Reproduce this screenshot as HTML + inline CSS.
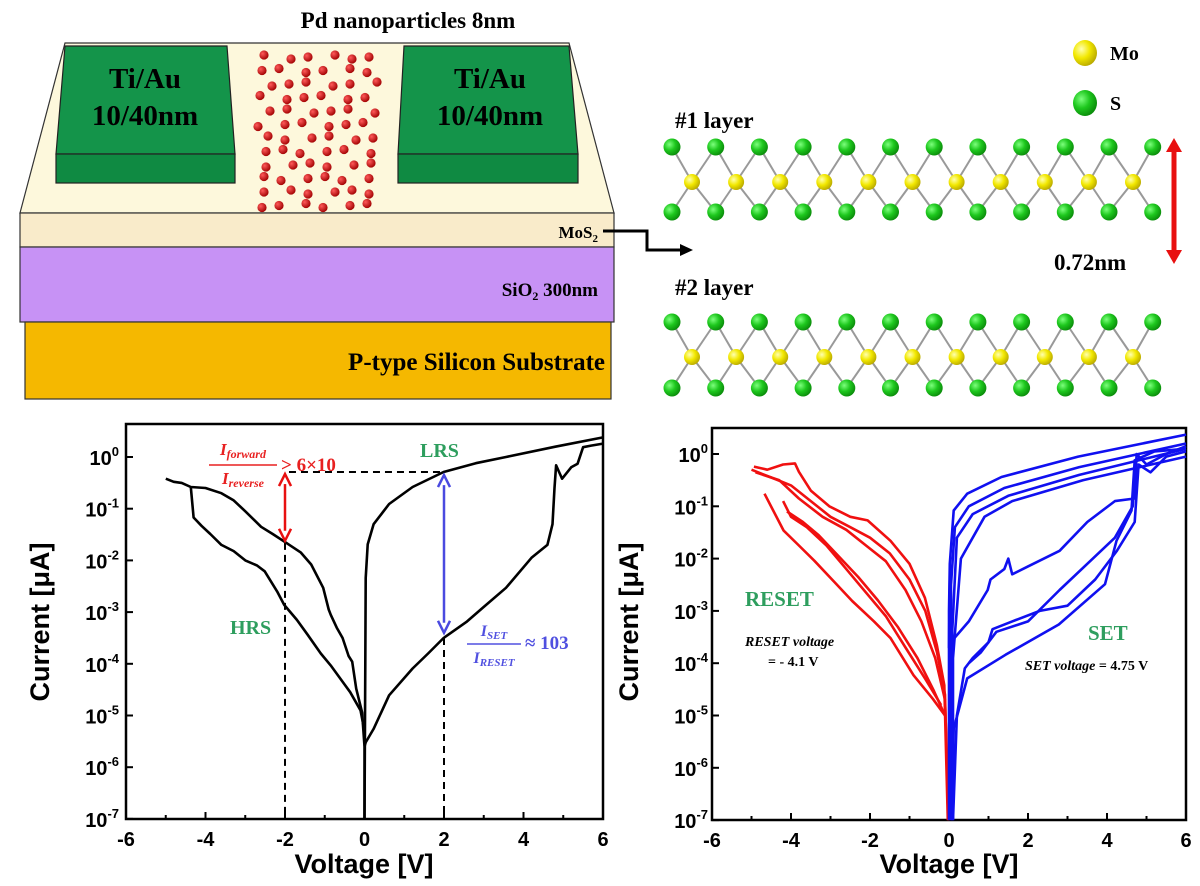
<!DOCTYPE html>
<html><head><meta charset="utf-8"><style>
html,body{margin:0;padding:0;background:#fff;}
svg{display:block;}
.ser{font-family:"Liberation Serif",serif;font-weight:bold;}
.san{font-family:"Liberation Sans",sans-serif;font-weight:bold;}
</style></head><body>
<svg id="fig" width="1200" height="886" viewBox="0 0 1200 886" xmlns="http://www.w3.org/2000/svg">
<defs>
<radialGradient id="gS" cx="0.35" cy="0.35" r="0.7"><stop offset="0" stop-color="#7dff7d"/><stop offset="0.5" stop-color="#1ec81e"/><stop offset="1" stop-color="#0a8a0a"/></radialGradient>
<radialGradient id="gM" cx="0.35" cy="0.35" r="0.7"><stop offset="0" stop-color="#ffffb0"/><stop offset="0.5" stop-color="#f2e800"/><stop offset="1" stop-color="#b8a800"/></radialGradient>
<radialGradient id="gP" cx="0.35" cy="0.35" r="0.7"><stop offset="0" stop-color="#ff5a5a"/><stop offset="1" stop-color="#a00000"/></radialGradient>
</defs>

<!-- Device schematic -->
<g>
<text class="ser" x="408" y="28" font-size="23" text-anchor="middle">Pd nanoparticles 8nm</text>
<polygon points="65,43 569,43 614,213 20,213" fill="#fdf8dc" stroke="#333" stroke-width="1.2"/>
<rect x="20" y="213" width="594" height="34" fill="#f9ebca" stroke="#333" stroke-width="1.2"/>
<rect x="20" y="247" width="594" height="75" fill="#c792f5" stroke="#333" stroke-width="1.2"/>
<rect x="25" y="322" width="586" height="77" fill="#f5b800" stroke="#333" stroke-width="1.2"/>
<polygon points="65,46 227,46 235,154 56,154" fill="#14944a" stroke="#222" stroke-width="1.2"/>
<rect x="56" y="154" width="179" height="29" fill="#0f8a42" stroke="#222" stroke-width="1.2"/>
<polygon points="404,46 569,46 578,154 398,154" fill="#14944a" stroke="#222" stroke-width="1.2"/>
<rect x="398" y="154" width="180" height="29" fill="#0f8a42" stroke="#222" stroke-width="1.2"/>
<text class="ser" x="145" y="88" font-size="29" text-anchor="middle">Ti/Au</text>
<text class="ser" x="145" y="125" font-size="29" text-anchor="middle">10/40nm</text>
<text class="ser" x="490" y="88" font-size="29" text-anchor="middle">Ti/Au</text>
<text class="ser" x="490" y="125" font-size="29" text-anchor="middle">10/40nm</text>
<g id="dots"></g>
<text class="ser" x="598" y="238" font-size="17" text-anchor="end">MoS<tspan font-size="11" dy="4">2</tspan></text>
<text class="ser" x="598" y="296" font-size="19" text-anchor="end">SiO<tspan font-size="12" dy="4">2</tspan><tspan dy="-4"> 300nm</tspan></text>
<text class="ser" x="605" y="370" font-size="25" text-anchor="end">P-type Silicon Substrate</text>
<polyline points="603,231 647,231 647,250 680,250" fill="none" stroke="#000" stroke-width="3"/>
<polygon points="680,244 693,250 680,256" fill="#000"/>
</g>

<!-- Lattice -->
<g id="lattice">
<text class="ser" x="675" y="128" font-size="23">#1 layer</text>
<text class="ser" x="675" y="295" font-size="23">#2 layer</text>
<ellipse cx="1085" cy="53" rx="12" ry="13" fill="url(#gM)"/>
<text class="ser" x="1110" y="60" font-size="20">Mo</text>
<ellipse cx="1085" cy="103" rx="12" ry="13" fill="url(#gS)"/>
<text class="ser" x="1110" y="110" font-size="20">S</text>
<line x1="1174" y1="150" x2="1174" y2="252" stroke="#e81010" stroke-width="5"/>
<polygon points="1166,152 1174,138 1182,152" fill="#e81010"/>
<polygon points="1166,250 1174,264 1182,250" fill="#e81010"/>
<text class="ser" x="1054" y="270" font-size="23">0.72nm</text>
</g>

<!-- Left chart -->
<g id="chartL">
<rect x="126" y="424" width="477" height="395" fill="none" stroke="#000" stroke-width="2.5"/>
<text class="san" x="49" y="622" font-size="27" text-anchor="middle" transform="rotate(-90 49 622)">Current [μA]</text>
<text class="san" x="364" y="873" font-size="27" text-anchor="middle">Voltage [V]</text>
<text class="ser" x="243" y="455" font-size="17" font-style="italic" fill="#e82020" text-anchor="middle">I<tspan font-size="12" dy="3">forward</tspan></text>
<line x1="209" y1="465" x2="277" y2="465" stroke="#e82020" stroke-width="1.5"/>
<text class="ser" x="243" y="484" font-size="17" font-style="italic" fill="#e82020" text-anchor="middle">I<tspan font-size="12" dy="3">reverse</tspan></text>
<text class="ser" x="281" y="471" font-size="19" fill="#e82020">&gt; 6×10</text>
<text class="ser" x="420" y="457" font-size="20" fill="#2e9e5e">LRS</text>
<text class="ser" x="230" y="634" font-size="20" fill="#2e9e5e">HRS</text>
<text class="ser" x="494" y="636" font-size="16" font-style="italic" fill="#5050e0" text-anchor="middle">I<tspan font-size="11" dy="3">SET</tspan></text>
<line x1="467" y1="644" x2="521" y2="644" stroke="#5050e0" stroke-width="1.5"/>
<text class="ser" x="494" y="663" font-size="16" font-style="italic" fill="#5050e0" text-anchor="middle">I<tspan font-size="11" dy="3">RESET</tspan></text>
<text class="ser" x="525" y="649" font-size="19" fill="#5050e0">≈ 103</text>
</g>

<!-- Right chart -->
<g id="chartR">
<rect x="712" y="428" width="474" height="392" fill="none" stroke="#000" stroke-width="2.5"/>
<text class="san" x="638" y="622" font-size="27" text-anchor="middle" transform="rotate(-90 638 622)">Current [μA]</text>
<text class="san" x="949" y="873" font-size="27" text-anchor="middle">Voltage [V]</text>
<text class="ser" x="745" y="606" font-size="21" fill="#2e9e5e">RESET</text>
<text class="ser" x="745" y="646" font-size="14" font-style="italic">RESET voltage</text>
<text class="ser" x="768" y="666" font-size="14">= - 4.1 V</text>
<text class="ser" x="1088" y="640" font-size="21" fill="#2e9e5e">SET</text>
<text class="ser" x="1025" y="670" font-size="14" font-style="italic">SET voltage <tspan font-style="normal">= 4.75 V</tspan></text>
</g>
</svg>
<script>
// ---- Chart data (V, log10 I[μA]) ----
const xTicks = [-6,-4,-2,0,2,4,6];
const yDecades = [0,-1,-2,-3,-4,-5,-6,-7];
const leftRevUpper = [[-5.0,-0.42],[-4.8,-0.48],[-4.6,-0.5],[-4.37,-0.58],[-4.0,-0.6],[-3.6,-0.7],[-3.29,-0.84],[-3.0,-1.05],[-2.6,-1.35],[-2.31,-1.49],[-1.97,-1.66],[-1.6,-1.85],[-1.34,-2.08],[-1.04,-2.53],[-0.9,-2.95],[-0.85,-3.05],[-0.7,-3.3],[-0.55,-3.5],[-0.4,-3.85],[-0.31,-3.96],[-0.21,-4.48],[-0.06,-4.94],[0,-5.6],[0,-7]];
const leftRevLower = [[-4.37,-0.58],[-4.3,-1.17],[-4.1,-1.33],[-3.88,-1.49],[-3.6,-1.7],[-3.29,-1.82],[-3.0,-2.0],[-2.7,-2.1],[-2.51,-2.21],[-2.2,-2.6],[-2.02,-2.86],[-1.7,-3.15],[-1.43,-3.44],[-1.1,-3.8],[-0.85,-4.03],[-0.5,-4.4],[-0.36,-4.55],[-0.1,-4.9],[0,-5.3]];
const leftFwdLRS = [[0,-7],[0.02,-4],[0.03,-2.34],[0.08,-1.69],[0.23,-1.3],[0.62,-0.91],[1.21,-0.58],[1.99,-0.29],[2.8,-0.12],[3.56,0],[4.8,0.2],[6,0.38]];
const leftFwdHRS = [[0,-5.6],[0.03,-5.52],[0.23,-5.26],[0.62,-4.61],[1.21,-4.09],[1.6,-3.8],[1.99,-3.5],[2.58,-3.18],[3.0,-2.9],[3.56,-2.53],[4.2,-1.95],[4.6,-1.7],[4.73,-1.3],[4.78,-0.6],[4.82,-0.16],[4.9,-0.3],[4.97,-0.42],[5.2,-0.2],[5.36,-0.13],[5.5,0.19],[5.7,0.22],[6,0.26]];
const redUp1 = [[-4.94,-0.24],[-4.6,-0.3],[-4.2,-0.2],[-3.9,-0.18],[-3.8,-0.34],[-3.5,-0.7],[-3.03,-1.0],[-2.5,-1.2],[-2.06,-1.27],[-1.48,-1.66],[-1.0,-2.1],[-0.61,-2.75],[-0.31,-3.65],[-0.12,-4.42],[-0.03,-7]];
const redUp2 = [[-5.0,-0.3],[-4.5,-0.45],[-4.0,-0.6],[-3.5,-0.9],[-3.0,-1.2],[-2.5,-1.4],[-2.0,-1.6],[-1.5,-1.9],[-1.0,-2.4],[-0.6,-3.0],[-0.3,-3.8],[-0.1,-4.6],[-0.02,-7]];
const redUp3 = [[-4.9,-0.35],[-4.3,-0.5],[-3.8,-0.85],[-3.2,-1.2],[-2.6,-1.45],[-2.1,-1.75],[-1.6,-2.05],[-1.1,-2.6],[-0.7,-3.2],[-0.35,-3.9],[-0.1,-4.7],[0,-7]];
const redLow1 = [[-4.67,-0.76],[-4.19,-1.46],[-3.8,-1.75],[-3.41,-2.04],[-2.9,-2.45],[-2.45,-2.81],[-1.9,-3.2],[-1.48,-3.52],[-0.9,-4.23],[-0.41,-4.68],[-0.1,-5.0]];
const redLow2 = [[-4.2,-0.9],[-4.0,-1.2],[-3.6,-1.4],[-3.1,-1.75],[-2.6,-2.2],[-2.1,-2.65],[-1.6,-3.1],[-1.1,-3.7],[-0.6,-4.3],[-0.2,-4.8]];
const redLow3 = [[-4.1,-1.1],[-3.7,-1.3],[-3.3,-1.55],[-2.8,-1.95],[-2.3,-2.35],[-1.8,-2.8],[-1.3,-3.3],[-0.8,-3.9],[-0.4,-4.5],[-0.1,-5.0]];
const blueLrs1 = [[0.0,-7],[0.0,-3],[0.02,-2.1],[0.12,-1.08],[0.46,-0.76],[1.33,-0.44],[3.27,-0.05],[6,0.37]];
const blueLrs2 = [[0.05,-7],[0.05,-2.5],[0.15,-1.4],[0.5,-1.0],[1.4,-0.65],[3.3,-0.25],[6,0.2]];
const blueLrs3 = [[0.07,-7],[0.08,-3.4],[0.2,-1.6],[0.6,-1.15],[1.5,-0.8],[3.3,-0.4],[6,0.1]];
const blueLrs4 = [[0.1,-7],[0.1,-3.9],[0.3,-2.0],[0.9,-1.2],[1.6,-0.9],[3.4,-0.5],[6,-0.05]];
const blueHrs1 = [[0.08,-7],[0.12,-5.25],[0.46,-4.29],[1.43,-3.84],[2.78,-3.26],[3.95,-2.49],[4.24,-1.66],[4.62,-1.08],[4.7,-0.12],[5.2,0.05],[6,0.1]];
const blueHrs2 = [[0.1,-7],[0.2,-5.0],[0.4,-4.1],[0.6,-3.9],[1.0,-3.6],[1.1,-3.35],[1.6,-3.2],[2.3,-3.0],[3.0,-2.9],[3.7,-2.4],[4.25,-1.85],[4.7,-1.3],[4.8,-0.2],[5.1,-0.35],[5.5,-0.05],[6,0.05]];
const blueHrs3 = [[0.02,-2.4],[0.0,-3.7],[0.1,-3.55],[0.5,-3.2],[0.98,-2.6],[1.05,-2.4],[1.4,-2.2],[1.5,-2.0],[1.6,-2.3],[2.0,-2.15],[2.8,-1.85],[3.5,-1.3],[4.2,-0.9],[4.7,-0.85],[4.75,0.0],[5.0,-0.2],[5.5,0.0],[6,0.15]];
const blueHrs4 = [[0.5,-4.0],[0.8,-3.8],[1.2,-3.4],[2.0,-3.2],[2.8,-2.6],[3.5,-2.1],[4.2,-1.6],[4.65,-1.0],[4.72,-0.3]];

const NS='http://www.w3.org/2000/svg';
function mk(tag, attrs, parent){const e=document.createElementNS(NS,tag);for(const k in attrs)e.setAttribute(k,attrs[k]);parent.appendChild(e);return e;}

const xL=v=>364.5+v*39.75, yL=e=>457-e*51.7;
const xR=v=>949+v*39.5, yR=e=>454-e*52.3;

function axes(g, X, Y, x0, y1, lbl){
  for(let v=-6; v<=6; v+=1){
    const major = v%2===0;
    const t=mk('line',{x1:X(v),x2:X(v),y1:y1,y2:y1-(major?7:4),stroke:'#000','stroke-width':2},g);
    
    
  }
  xTicks.forEach(v=>{
    const t=mk('text',{x:X(v),y:y1+27,'font-size':20,'text-anchor':'middle',class:'san'},g);
    t.textContent=String(v);
    
    
  });
  yDecades.forEach(d=>{
    const t=mk('line',{x1:x0,x2:x0+7,y1:Y(d),y2:Y(d),stroke:'#000','stroke-width':2},g);
    
    
    const tx=mk('text',{x:lbl,y:Y(d)+8,'font-size':20,'text-anchor':'end',class:'san'},g);
    tx.innerHTML='10<tspan font-size="13" dy="-9">'+d+'</tspan>';
    
    
  });
}
function series(g, pts, X, Y, color, name){
  const d=pts.map((p,i)=>(i?'L':'M')+X(p[0]).toFixed(1)+','+Y(p[1]).toFixed(1)).join(' ');
  const p=mk('path',{d:d,fill:'none',stroke:color,'stroke-width':2.6,'stroke-linejoin':'round'},g);
  
  
}
const gL=document.getElementById('chartL'), gR=document.getElementById('chartR');
axes(gL,xL,yL,126,819,119);
axes(gR,xR,yR,712,820,708);
series(gL,leftRevUpper,xL,yL,'#000','left-reverse-upper');
series(gL,leftRevLower,xL,yL,'#000','left-reverse-lower');
series(gL,leftFwdLRS,xL,yL,'#000','left-forward-lrs');
series(gL,leftFwdHRS,xL,yL,'#000','left-forward-hrs');
// dashed guides
function dash(g,x1,y1,x2,y2,name){const l=mk('line',{x1:x1,y1:y1,x2:x2,y2:y2,stroke:'#000','stroke-width':2,'stroke-dasharray':'7,5'},g);}
dash(gL,xL(-1.9),yL(-0.29),xL(2),yL(-0.29),'lrs-guide-horizontal');
dash(gL,xL(-2),yL(-1.66),xL(-2),819,'guide-minus2');
dash(gL,xL(2),yL(-3.5),xL(2),819,'guide-plus2');
function darrow(g,x,ya,yb,color,name){
  const l=mk('line',{x1:x,y1:ya+10,x2:x,y2:yb-10,stroke:color,'stroke-width':2.5},g);
  const a=mk('path',{d:`M${x-6},${ya+12} L${x},${ya} L${x+6},${ya+12} M${x-6},${yb-12} L${x},${yb} L${x+6},${yb-12}`,fill:'none',stroke:color,'stroke-width':2.5},g);
}
darrow(gL,xL(-2),yL(-0.33),yL(-1.62),'#e81010','forward-ratio-arrow');
darrow(gL,xL(2),yL(-0.35),yL(-3.4),'#4a4ae0','set-ratio-arrow');

[redUp1,redUp2,redUp3,redLow1,redLow2,redLow3].forEach((s,i)=>series(gR,s,xR,yR,'#f01010','reset-cycle-'+(i+1)));
[blueLrs1,blueLrs2,blueLrs3,blueLrs4,blueHrs1,blueHrs2,blueHrs3,blueHrs4].forEach((s,i)=>series(gR,s,xR,yR,'#1010f0','set-cycle-'+(i+1)));

// nanoparticles
const dg=document.getElementById('dots');
for(let r=0;r<12;r++){for(let c=0;c<6;c++){
  const cx=264+c*21+((r*7+c*3)%5)*2-(r%2)*6, cy=55+r*13.5+((c*5+r)%3)*2;
  const e=mk('circle',{cx:cx,cy:cy,r:4.6,fill:'url(#gP)'},dg);
  
  
}}
// lattice
const lg=document.getElementById('lattice');
function layer(yt,ym,yb){
  const Sx=i=>672+i*43.7, Mx=i=>692+i*44.1;
  for(let i=0;i<11;i++){
    [[Sx(i),yt],[Sx(i+1),yt],[Sx(i),yb],[Sx(i+1),yb]].forEach(p=>{const b=mk('line',{x1:Mx(i),y1:ym,x2:p[0],y2:p[1],stroke:'#999','stroke-width':2},lg);});
  }
  for(let i=0;i<12;i++){[yt,yb].forEach(y=>{const a=mk('circle',{cx:Sx(i),cy:y,r:8.5,fill:'url(#gS)'},lg);});}
  for(let i=0;i<11;i++){const a=mk('circle',{cx:Mx(i),cy:ym,r:8,fill:'url(#gM)'},lg);}
}
layer(147,182,212);
layer(322,357,388);
</script>
</body></html>
